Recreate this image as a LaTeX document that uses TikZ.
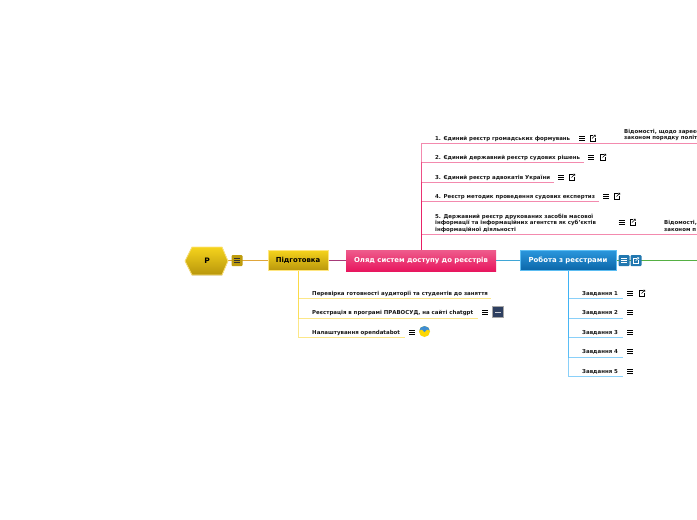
\documentclass[tikz,border=0pt]{standalone}
\usepackage{fontspec}
\setmainfont{DejaVu Sans}
\usepackage{tikz}

\definecolor{rootyellow}{HTML}{F5D31C}
\definecolor{rootdark}{HTML}{B8960C}
\definecolor{yellowedge}{HTML}{FFE680}
\definecolor{yellowline}{HTML}{FBD83A}
\definecolor{pinktop}{HTML}{EE5C8C}
\definecolor{pinkbot}{HTML}{E8175F}
\definecolor{bluetop}{HTML}{2A96DC}
\definecolor{bluebot}{HTML}{0B66A8}
\definecolor{blueedge}{HTML}{5CBDF2}
\definecolor{blueline}{HTML}{3DB2F5}
\definecolor{tanline}{HTML}{E0A63A}
\definecolor{plumline}{HTML}{A63A78}
\definecolor{tealline}{HTML}{3FA6D6}
\definecolor{greenline}{HTML}{55B043}
\definecolor{slateicon}{HTML}{2E3F60}

\tikzset{
    leaftext/.style={anchor=west, inner sep=0pt, yshift=-0.7pt, font=\bfseries\fontsize{5.45}{6.6}\selectfont, text=black!90, align=left},
    pinklink/.style={pinkbot, line width=0.9pt, opacity=0.5},
    yellowlink/.style={yellowline, line width=0.9pt, opacity=0.6},
    bluelink/.style={blueline, line width=0.9pt, opacity=0.6},
    mainlink/.style={line width=1.2pt},
    yellowbox/.style={draw=yellowedge, line width=1pt, top color=rootyellow, bottom color=rootdark, minimum width=60pt, minimum height=20pt, inner sep=0pt, text depth=1.5pt, font=\bfseries\fontsize{6.9}{8}\selectfont},
    pinkbox/.style={top color=pinktop, bottom color=pinkbot, text=white, minimum width=150pt, minimum height=21pt, inner sep=0pt, text depth=1.5pt, font=\bfseries\fontsize{6.9}{8}\selectfont},
    bluebox/.style={draw=blueedge, line width=1pt, top color=bluetop, bottom color=bluebot, text=white, minimum width=96pt, minimum height=20pt, inner sep=0pt, text depth=1.5pt, font=\bfseries\fontsize{6.9}{8}\selectfont},
    iconbox/.style={minimum width=11pt, minimum height=11pt, inner sep=0pt, rounded corners=1pt},
    menuicon/.pic={
        \draw[#1, line width=0.6pt] (-3,-2.2) -- (3,-2.2) (-3,0) -- (3,0) (-3,2.2) -- (3,2.2);
    },
    menuicon/.default=black!65,
    linkicon/.pic={
        \draw[#1, line width=0.4pt] (0.5,-2.5) -- (-2.8,-2.5) -- (-2.8,2.8) -- (2.5,2.8) -- (2.5,-0.5);
        \draw[#1, line width=0.5pt] (-0.5,0.5) -- (2.8,-2.8) (1.2,-2.8) -- (2.8,-2.8) -- (2.8,-1.2);
    },
    linkicon/.default=black!55
}

\begin{document}
\begin{tikzpicture}[x=1pt, y=-1pt]
    \clip (0,0) rectangle (697,520);
    \fill[white] (0,0) rectangle (697,520);

    % Main boxes
    \node[yellowbox] (prep) at (298,260.5) {Підготовка};
    \node[pinkbox] (review) at (421,260.5) {Оляд систем доступу до реєстрів};
    \node[bluebox] (work) at (568,260.5) {Робота з реєстрами};
    \coordinate (rootright) at (228,260.5);
    \coordinate (rightedge) at (697,260.5);

    % Main line
    \draw[tanline, mainlink] (rootright) -- (prep.west);
    \draw[plumline, mainlink] (prep.east) -- (review.west);
    \draw[tealline, mainlink] (review.east) -- (work.west);
    \draw[greenline, mainlink] (work.east) -- (rightedge);

    % Root
    \fill[draw=yellowedge, line width=0.8pt, top color=rootyellow, bottom color=rootdark] (185,261) -- (192,247) -- (222,247) -- (228,261) -- (222,275) -- (192,275) -- cycle;
    \node[inner sep=0pt, font=\bfseries\fontsize{7.5}{8}\selectfont] (root) at (207,261) {Р};
    \node[iconbox, fill=rootdark!90!rootyellow] (rootmenu) at (237,260.5) {};
    \pic at (rootmenu) {menuicon=black!80};

    % Icons on the blue box
    \node[iconbox, fill=bluetop!80!black] (workmenu) at (624,260.5) {};
    \node[iconbox, fill=bluetop!80!black] (worklink) at (636,260.5) {};
    \pic at (workmenu) {menuicon=white};
    \pic at (worklink) {linkicon=white};

    % Register list
    \node[leaftext] (reg1) at (435,138) {1. Єдиний реєстр громадських формувань};
    \node[leaftext] (reg2) at (435,157) {2. Єдиний державний реєстр судових рішень};
    \node[leaftext] (reg3) at (435,177) {3. Єдиний реєстр адвокатів України};
    \node[leaftext] (reg4) at (435,196) {4. Реєстр методик проведення судових експертиз};
    \node[leaftext] (reg5) at (435,222.5) {5. Державний реєстр друкованих засобів масової\\інформації та інформаційних агентств як суб'єктів\\інформаційної діяльності};
    \node[leaftext] (note1) at (624,134.5) {Відомості, щодо зареєс\\законом порядку політ};
    \node[leaftext] (note5) at (664,225.5) {Відомості,\\законом п};
    \coordinate (regend1) at (697,143.5);
    \coordinate (regend2) at (584,162.5);
    \coordinate (regend3) at (554,182);
    \coordinate (regend4) at (599,201.5);
    \coordinate (regend5) at (697,234.5);
    \draw[pinklink] (review.north) |- (regend1);
    \draw[pinklink] (review.north) |- (regend2);
    \draw[pinklink] (review.north) |- (regend3);
    \draw[pinklink] (review.north) |- (regend4);
    \draw[pinklink] (review.north) |- (regend5);
    \pic at (582,138) {menuicon};
    \pic at (592.5,138) {linkicon};
    \pic at (591,157) {menuicon};
    \pic at (603,157) {linkicon};
    \pic at (561,177) {menuicon};
    \pic at (572,177) {linkicon};
    \pic at (606,196) {menuicon};
    \pic at (617,196) {linkicon};
    \pic at (621.5,222) {menuicon};
    \pic at (632.5,222) {linkicon};

    % Preparation list
    \node[leaftext] (check) at (312,293.5) {Перевірка готовності аудиторії та студентів до заняття};
    \node[leaftext] (signup) at (312,312) {Реєстрація в програмі ПРАВОСУД, на сайті chatgpt};
    \node[leaftext] (setup) at (312,332) {Налаштування opendatabot};
    \coordinate (checkend) at (491,298.5);
    \coordinate (signupend) at (478,318);
    \coordinate (setupend) at (405,337.5);
    \draw[yellowlink] (prep.south) |- (checkend);
    \draw[yellowlink] (prep.south) |- (signupend);
    \draw[yellowlink] (prep.south) |- (setupend);
    \pic at (485,312) {menuicon};
    \fill[slateicon, draw=black!35, line width=0.4pt] (492.5,306.5) rectangle (503.5,317.5);
    \fill[white!75!slateicon] (495,311.5) rectangle (501,312.2);
    \pic at (412,332) {menuicon};
    \fill[yellow!75!orange] (424.5,331.5) circle (5.5);
    \begin{scope}
        \clip (424.5,331.5) circle (5.5);
        \fill[cyan!60!blue!80] (418,325) -- (431,325) -- (431,331) -- (427,329.5) -- (424.5,332) -- (422,329.5) -- (418,331) -- cycle;
    \end{scope}

    % Tasks
    \node[leaftext] (task1) at (582,293) {Завдання 1};
    \node[leaftext] (task2) at (582,312) {Завдання 2};
    \node[leaftext] (task3) at (582,332) {Завдання 3};
    \node[leaftext] (task4) at (582,351) {Завдання 4};
    \node[leaftext] (task5) at (582,371) {Завдання 5};
    \coordinate (taskend1) at (623,298.5);
    \coordinate (taskend2) at (623,318);
    \coordinate (taskend3) at (623,337.5);
    \coordinate (taskend4) at (623,357);
    \coordinate (taskend5) at (623,376.5);
    \draw[bluelink] (work.south) |- (taskend1);
    \draw[bluelink] (work.south) |- (taskend2);
    \draw[bluelink] (work.south) |- (taskend3);
    \draw[bluelink] (work.south) |- (taskend4);
    \draw[bluelink] (work.south) |- (taskend5);
    \pic at (630,293) {menuicon};
    \pic at (642,293) {linkicon};
    \pic at (630,312) {menuicon};
    \pic at (630,332) {menuicon};
    \pic at (630,351) {menuicon};
    \pic at (630,371) {menuicon};
\end{tikzpicture}
\end{document}
